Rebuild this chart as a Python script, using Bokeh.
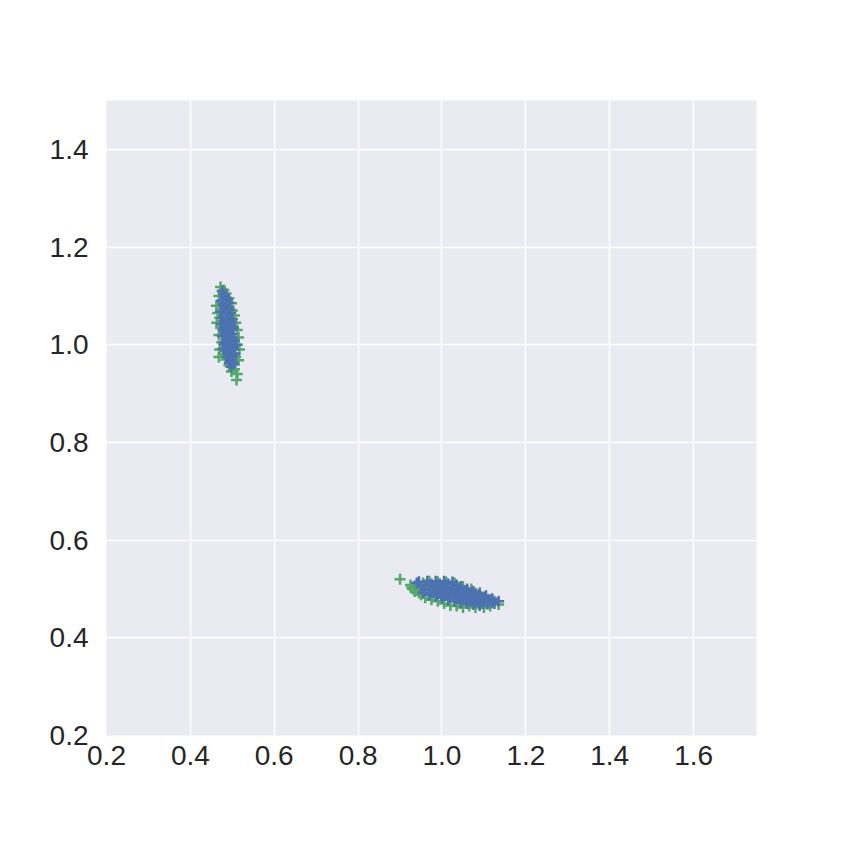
from bokeh.plotting import figure
from bokeh.models import FixedTicker, PrintfTickFormatter, Range1d
from bokeh.embed import file_html
from bokeh.resources import INLINE

# green series (drawn underneath)
green_x = [0.472, 0.480, 0.468, 0.485, 0.492, 0.462, 0.478, 0.498, 0.465, 0.500, 0.470, 0.505,
           0.463, 0.508, 0.472, 0.512, 0.468, 0.515, 0.475, 0.512, 0.470, 0.517, 0.478, 0.508,
           0.468, 0.485, 0.500, 0.515, 0.492, 0.505, 0.498, 0.512, 0.510, 0.490, 0.485, 0.495, 0.488,
           0.900, 0.925, 0.930, 0.935, 0.940, 0.945, 0.950, 0.960, 0.975, 0.990, 1.005, 1.020,
           1.035, 1.050, 1.065, 1.080, 1.100, 1.115, 1.135, 1.125, 1.095, 1.060, 1.040, 0.955,
           0.970, 0.990, 1.010, 1.030, 1.050, 1.070, 1.090, 0.985, 1.010, 0.928, 0.938]
green_y = [1.118, 1.112, 1.100, 1.105, 1.095, 1.080, 1.088, 1.085, 1.065, 1.070, 1.055, 1.060,
           1.045, 1.045, 1.035, 1.030, 1.020, 1.015, 1.005, 1.000, 0.990, 0.990, 0.980, 0.975,
           0.975, 0.970, 0.965, 0.968, 0.958, 0.950, 0.945, 0.940, 0.928, 1.050, 1.030, 1.010, 0.995,
           0.520, 0.508, 0.500, 0.495, 0.505, 0.492, 0.488, 0.482, 0.478, 0.475, 0.470, 0.466,
           0.465, 0.462, 0.465, 0.462, 0.462, 0.465, 0.468, 0.475, 0.470, 0.470, 0.472, 0.512,
           0.516, 0.515, 0.514, 0.512, 0.505, 0.500, 0.492, 0.500, 0.490, 0.503, 0.497]

# blue series (drawn on top)
blue_x = [0.476, 0.482, 0.474, 0.488, 0.480, 0.492, 0.472, 0.485, 0.496, 0.476, 0.489, 0.500,
          0.473, 0.484, 0.495, 0.503, 0.478, 0.490, 0.500, 0.476, 0.486, 0.496, 0.505, 0.480,
          0.491, 0.502, 0.484, 0.495, 0.506, 0.488, 0.499, 0.493, 0.503, 0.497, 0.478, 0.509,
          0.479, 0.485, 0.478, 0.492, 0.482, 0.488, 0.494, 0.480, 0.486, 0.492, 0.498, 0.481,
          0.487, 0.493, 0.499, 0.483, 0.489, 0.497, 0.502, 0.485, 0.491, 0.498, 0.503, 0.490,
          0.496, 0.501, 0.494, 0.500,
          0.945, 0.960, 0.965, 0.975, 0.985, 0.995, 1.005, 1.015, 1.025, 1.035, 1.045, 1.060,
          1.075, 1.090, 1.105, 1.120, 1.135, 1.125, 1.110, 1.095, 1.080, 1.065, 1.050, 1.035,
          1.020, 1.005, 0.990, 0.975, 0.960, 0.955, 0.970, 0.985, 1.000, 1.015, 1.030, 1.045,
          1.060, 1.075, 1.090, 1.010, 1.040, 1.070, 0.995, 1.025, 1.055, 1.085, 1.100, 0.950,
          0.968, 0.980, 0.992, 1.002, 1.012, 1.022, 1.032, 1.042, 1.052, 1.062, 1.072, 1.082,
          1.092, 1.102, 1.112, 0.978, 0.988, 0.998, 1.018, 1.028, 1.038, 1.048, 1.058, 1.068,
          1.078, 1.088, 1.098, 1.108, 1.118, 0.940]
blue_y = [1.110, 1.100, 1.090, 1.092, 1.080, 1.078, 1.068, 1.070, 1.065, 1.055, 1.058, 1.052,
          1.042, 1.045, 1.040, 1.035, 1.030, 1.028, 1.022, 1.018, 1.015, 1.010, 1.008, 1.002,
          0.998, 0.995, 0.988, 0.985, 0.982, 0.975, 0.972, 0.963, 0.960, 0.955, 0.992, 1.000,
          1.104, 1.096, 1.084, 1.086, 1.074, 1.064, 1.072, 1.048, 1.050, 1.048, 1.046, 1.036,
          1.036, 1.034, 1.030, 1.024, 1.020, 1.016, 1.014, 1.006, 1.004, 1.002, 0.990, 0.982,
          0.992, 0.978, 0.970, 0.965,
          0.515, 0.508, 0.516, 0.510, 0.516, 0.510, 0.516, 0.510, 0.514, 0.508, 0.505, 0.500,
          0.495, 0.490, 0.486, 0.480, 0.475, 0.470, 0.472, 0.476, 0.478, 0.482, 0.485, 0.488,
          0.490, 0.492, 0.495, 0.498, 0.500, 0.492, 0.488, 0.485, 0.482, 0.478, 0.475, 0.472,
          0.470, 0.468, 0.466, 0.500, 0.496, 0.488, 0.503, 0.498, 0.492, 0.484, 0.478, 0.505,
          0.506, 0.504, 0.506, 0.504, 0.502, 0.503, 0.500, 0.500, 0.496, 0.494, 0.492, 0.488,
          0.484, 0.482, 0.478, 0.493, 0.490, 0.488, 0.485, 0.483, 0.481, 0.479, 0.477, 0.476,
          0.473, 0.472, 0.470, 0.469, 0.472, 0.512]

x_ticks = [0.2, 0.4, 0.6, 0.8, 1.0, 1.2, 1.4, 1.6]
y_ticks = [0.2, 0.4, 0.6, 0.8, 1.0, 1.2, 1.4]

p = figure(frame_width=650, frame_height=635, output_backend="svg", toolbar_location=None,
           x_range=Range1d(0.2, 1.75), y_range=Range1d(0.2, 1.5),
           min_border_left=106, min_border_top=100, min_border_right=60, min_border_bottom=80,
           background_fill_color="#EAEAF2", border_fill_color="white")
p.outline_line_color = None

p.scatter(green_x, green_y, marker="cross", size=11, line_width=2.5, line_color="#55A868")
p.scatter(blue_x, blue_y, marker="cross", size=11, line_width=2.5, line_color="#4C72B0")

for ax, ticks in ((p.xaxis, x_ticks), (p.yaxis, y_ticks)):
    ax.ticker = FixedTicker(ticks=ticks)
    ax.formatter = PrintfTickFormatter(format="%.1f")
    ax.axis_line_color = None
    ax.major_tick_line_color = None
    ax.minor_tick_line_color = None
    ax.major_label_text_font = "Liberation Sans"
    ax.major_label_text_font_size = "28px"
    ax.major_label_text_color = "#262626"
p.xaxis.major_label_standoff = 4
p.yaxis.major_label_standoff = 12

p.grid.grid_line_color = "white"
p.grid.grid_line_width = 1.5

open("out.html", "w").write(file_html(p, INLINE))
